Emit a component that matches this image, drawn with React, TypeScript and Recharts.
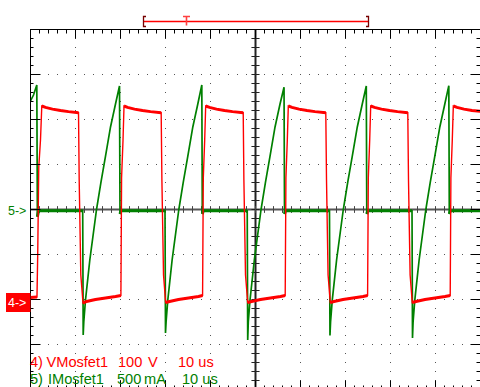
import React from "react";
import {
  ComposedChart,
  Line,
  XAxis,
  YAxis,
  CartesianGrid,
  ReferenceLine,
} from "recharts";

// time base 10 us/div, 10 divisions across
const timeMinorTicks = [
  0, 2, 4, 6, 8, 10, 12, 14, 16, 18, 20, 22, 24, 26, 28, 30, 32, 34, 36, 38,
  40, 42, 44, 46, 48, 50, 52, 54, 56, 58, 60, 62, 64, 66, 68, 70, 72, 74, 76,
  78, 80, 82, 84, 86, 88, 90, 92, 94, 96, 98, 100,
];
const timeMajorTicks = [0, 10, 20, 30, 40, 50, 60, 70, 80, 90, 100];

// vertical divisions, 8 across
const divMinorTicks = [
  -4, -3.8, -3.6, -3.4, -3.2, -3, -2.8, -2.6, -2.4, -2.2, -2, -1.8, -1.6,
  -1.4, -1.2, -1, -0.8, -0.6, -0.4, -0.2, 0, 0.2, 0.4, 0.6, 0.8, 1, 1.2, 1.4,
  1.6, 1.8, 2, 2.2, 2.4, 2.6, 2.8, 3, 3.2, 3.4, 3.6, 3.8, 4,
];
const divMajorTicks = [-4, -3, -2, -1, 0, 1, 2, 3, 4];

// channel 4: VMosfet1, 100 V/div, reference at -2 div  -> [us, V]
const voltageTrace: [number, number][] = [
  [0, 4.4], [1.44, 5.6], [1.6, 98.9], [1.84, 294.4], [2.22, 354.4], [2.51, 430],
  [3.33, 427], [4.89, 423], [6.67, 420], [8.44, 417.5], [10.67, 415],
  [10.82, 265.6], [11.18, 54.4], [11.67, -7.8],
  [12.44, -4.4], [14.44, 0], [16.67, 3.3], [18.89, 6.7], [20.09, 8.9],
  [20.24, 270], [20.56, 354.4], [20.78, 430],
  [21.56, 427], [23.11, 423], [24.89, 420], [26.67, 417.5], [29.04, 415],
  [29.2, 265.6], [29.56, 54.4], [30.04, -6.7],
  [30.89, -4.4], [32.89, 0], [35.11, 3.3], [37.33, 6.7], [38.24, 8.9],
  [38.4, 270], [38.71, 354.4], [38.93, 430],
  [39.78, 427], [41.33, 423], [43.11, 420], [44.89, 417.5], [47.27, 415],
  [47.42, 265.6], [47.78, 54.4], [48.27, -6.7],
  [49.11, -4.4], [51.11, 0], [53.33, 3.3], [55.56, 6.7], [56.6, 8.9],
  [56.76, 270], [57.07, 354.4], [57.29, 430],
  [58.11, 427], [59.67, 423], [61.44, 420], [63.22, 417.5], [65.62, 415],
  [65.78, 265.6], [66.13, 54.4], [66.62, -6.7],
  [67.44, -4.4], [69.44, 0], [71.67, 3.3], [73.89, 6.7], [74.91, 8.9],
  [75.07, 270], [75.38, 354.4], [75.6, 430],
  [76.44, 427], [78, 423], [79.78, 420], [81.56, 417.5], [83.84, 415],
  [84, 265.6], [84.36, 54.4], [84.84, -6.7],
  [85.67, -4.4], [87.67, 0], [89.89, 3.3], [92.11, 6.7], [93.27, 8.9],
  [93.42, 270], [93.73, 354.4], [93.96, 430],
  [94.78, 427], [96.33, 423], [98.11, 420], [100, 418],
];

// channel 5: IMosfet1, 500 mA/div, reference at 0 div -> [us, mA]
const currentTrace: [number, number][] = [
  [0, 1206], [0.67, 1272], [1.4, 1383], [1.53, -80], [1.78, -15],
  [11.6, -15], [11.71, -1394], [11.84, -1250], [12.22, -1006], [13.18, -561],
  [14.67, 0], [15.67, 306], [16.67, 594], [17.78, 917], [18.89, 1172],
  [19.78, 1372], [19.89, -50], [20.11, -15],
  [29.89, -15], [30.0, -1372], [30.13, -1250], [30.51, -1006], [31.47, -561],
  [32.96, 0], [33.96, 306], [34.96, 594], [36.07, 917], [37.18, 1172],
  [38.07, 1383], [38.18, -50], [38.4, -15],
  [48.16, -15], [48.27, -1450], [48.4, -1250], [48.78, -1006], [49.74, -561],
  [51.23, 0], [52.23, 306], [53.23, 594], [54.34, 917], [55.45, 1172],
  [56.34, 1358], [56.45, -50], [56.67, -15],
  [66.44, -15], [66.55, -1400], [66.68, -1250], [67.06, -1006], [68.02, -561],
  [69.51, 0], [70.51, 306], [71.51, 594], [72.62, 917], [73.73, 1172],
  [74.62, 1372], [74.73, -50], [74.95, -15],
  [84.78, -15], [84.89, -1428], [85.02, -1250], [85.4, -1006], [86.36, -561],
  [87.85, 0], [88.85, 306], [89.85, 594], [90.96, 917], [92.07, 1172],
  [92.96, 1376], [93.07, -50], [93.29, -15],
  [100, -15],
];

const RED = "#ff0000";
const GREEN = "#008000";
const THIN = 0.001; // mirrored axes must have a non-zero size or they are skipped

const voltageData = voltageTrace.map(([t, v]) => ({ t, v }));
// the noisy flat parts (off plateau and on level), drawn as a thicker band
const voltageBand = voltageTrace.map(([t, v]) => ({
  t,
  v: v > 400 || Math.abs(v) < 20 ? v : null,
}));
const currentData = currentTrace.map(([t, i]) => ({ t, i }));
const currentBand = currentTrace.map(([t, i]) => ({
  t,
  i: Math.abs(i) < 100 ? i : null,
}));

const legendFont = {
  fontFamily: "'Liberation Sans', Arial, sans-serif",
  fontSize: 14.6,
};

// tick must stay truthy or recharts drops the tick lines (and the grid) too
const NoLabel = () => <g />;

const edgeTickProps = {
  type: "number" as const,
  mirror: true,
  allowDataOverflow: true,
  interval: 0,
  tick: NoLabel,
  tickLine: { stroke: "#000" },
};

export default function App() {
  return (
    <div
      style={{
        position: "absolute",
        left: 0,
        top: 0,
        width: 480,
        height: 387,
        overflow: "hidden",
        background: "#fff",
      }}
    >
      <ComposedChart
        width={482}
        height={392}
        margin={{ top: 29.5, right: 1.5, bottom: 2.5, left: 30.5 }}
      >
        <XAxis
          {...edgeTickProps}
          xAxisId="t"
          dataKey="t"
          domain={[0, 100]}
          orientation="top"
          height={THIN}
          ticks={timeMinorTicks}
          tickSize={4}
          axisLine={{ stroke: "#000" }}
        />
        <XAxis
          {...edgeTickProps}
          xAxisId="tMaj"
          dataKey="t"
          domain={[0, 100]}
          orientation="top"
          height={THIN}
          ticks={timeMajorTicks}
          tickSize={9}
          axisLine={false}
        />
        <XAxis
          {...edgeTickProps}
          xAxisId="tBot"
          dataKey="t"
          domain={[0, 100]}
          orientation="bottom"
          height={THIN}
          ticks={timeMinorTicks}
          tickSize={4}
          axisLine={{ stroke: "#000" }}
        />
        <XAxis
          {...edgeTickProps}
          xAxisId="tBotMaj"
          dataKey="t"
          domain={[0, 100]}
          orientation="bottom"
          height={THIN}
          ticks={timeMajorTicks}
          tickSize={9}
          axisLine={false}
        />
        <YAxis
          {...edgeTickProps}
          yAxisId="d"
          domain={[-4, 4]}
          orientation="left"
          width={THIN}
          ticks={divMinorTicks}
          tickSize={3}
          axisLine={{ stroke: "#000" }}
        />
        <YAxis
          {...edgeTickProps}
          yAxisId="dMaj"
          domain={[-4, 4]}
          orientation="left"
          width={THIN}
          ticks={divMajorTicks}
          tickSize={10}
          axisLine={false}
        />
        <YAxis
          {...edgeTickProps}
          yAxisId="dR"
          domain={[-4, 4]}
          orientation="right"
          width={THIN}
          ticks={divMinorTicks}
          tickSize={4}
          axisLine={{ stroke: "#000" }}
        />
        <YAxis
          {...edgeTickProps}
          yAxisId="dRMaj"
          domain={[-4, 4]}
          orientation="right"
          width={THIN}
          ticks={divMajorTicks}
          tickSize={10}
          axisLine={false}
        />
        <YAxis yAxisId="v" hide type="number" domain={[-200, 600]} allowDataOverflow />
        <YAxis yAxisId="i" hide type="number" domain={[-2000, 2000]} allowDataOverflow />

        <CartesianGrid
          xAxisId="tMaj"
          yAxisId="dMaj"
          stroke="#555"
          strokeDasharray="1 8"
          strokeDashoffset={0.5}
        />

        <ReferenceLine xAxisId="t" yAxisId="d" x={50} stroke="#222" strokeWidth={2} />
        <ReferenceLine xAxisId="t" yAxisId="d" y={0} stroke="#555" strokeWidth={2} />
        {divMinorTicks.map((y) => (
          <ReferenceLine
            key={`cy${y}`}
            xAxisId="t"
            yAxisId="d"
            segment={[
              { x: 49.1, y },
              { x: 50.9, y },
            ]}
            stroke="#222"
          />
        ))}
        {timeMinorTicks.map((x) => (
          <ReferenceLine
            key={`cx${x}`}
            xAxisId="t"
            yAxisId="d"
            segment={[
              { x, y: -0.075 },
              { x, y: 0.075 },
            ]}
            stroke="#444"
          />
        ))}

        <Line
          data={currentBand}
          xAxisId="t"
          yAxisId="i"
          dataKey="i"
          stroke={GREEN}
          strokeWidth={3}
          dot={false}
          isAnimationActive={false}
        />
        <Line
          data={currentData}
          xAxisId="t"
          yAxisId="i"
          dataKey="i"
          stroke={GREEN}
          strokeWidth={1.7}
          dot={false}
          isAnimationActive={false}
        />
        <Line
          data={voltageBand}
          xAxisId="t"
          yAxisId="v"
          dataKey="v"
          stroke={RED}
          strokeWidth={3}
          dot={false}
          isAnimationActive={false}
        />
        <Line
          data={voltageData}
          xAxisId="t"
          yAxisId="v"
          dataKey="v"
          stroke={RED}
          strokeWidth={1.4}
          dot={false}
          isAnimationActive={false}
        />
      </ComposedChart>

      <svg
        width={480}
        height={387}
        style={{ position: "absolute", left: 0, top: 0, pointerEvents: "none" }}
      >
        <line x1={143.5} y1={21.5} x2={368} y2={21.5} stroke={RED} strokeWidth={1.3} />
        <path d="M146 16.5 H143.5 V26.5 H146" fill="none" stroke="#700" strokeWidth={1.3} />
        <path d="M366 16.5 H368.5 V26.5 H366" fill="none" stroke="#700" strokeWidth={1.3} />
        <path d="M183 16.5 H190 M186.5 16.5 V25.5" fill="none" stroke="#ff4040" strokeWidth={1.6} />

        <text x={8} y={215} fill={GREEN} fontFamily="'Liberation Sans', Arial, sans-serif" fontSize={12.5}>
          {"5->"}
        </text>
        <rect x={6} y={293} width={24.5} height={19} fill={RED} />
        <text x={8} y={306.5} fill="#fff" fontFamily="'Liberation Sans', Arial, sans-serif" fontSize={12.5}>
          {"4->"}
        </text>

        <g fill={RED} style={legendFont}>
          <text x={30} y={367.3}>4)</text>
          <text x={46.5} y={367.3}>VMosfet1</text>
          <text x={118} y={367.3}>100</text>
          <text x={148} y={367.3}>V</text>
          <text x={178} y={367.3}>10 us</text>
        </g>
        <g fill={GREEN} style={legendFont}>
          <text x={30} y={383.5}>5)</text>
          <text x={48} y={383.5}>IMosfet1</text>
          <text x={117} y={383.5}>500</text>
          <text x={144} y={383.5}>mA</text>
          <text x={182} y={383.5}>10 us</text>
        </g>
      </svg>
    </div>
  );
}
